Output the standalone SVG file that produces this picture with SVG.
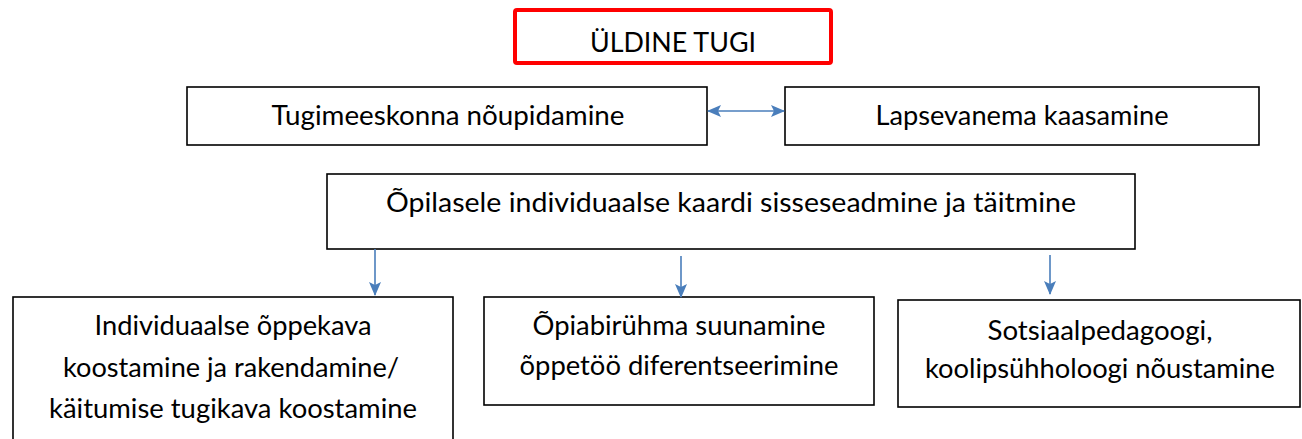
<svg xmlns="http://www.w3.org/2000/svg" width="1302" height="439" viewBox="0 0 1302 439">
<defs>
<style>
.box{fill:#ffffff;stroke:#000000;stroke-width:1.6}
.red{fill:#ffffff;stroke:#ff0000;stroke-width:4}
.t{font-family:Lato,"Open Sans","Liberation Sans",sans-serif;font-size:27px;fill:#000000;text-anchor:middle}
.c{stroke:#4a7ebb;stroke-width:1.6;fill:none}
</style>
<marker id="ah" viewBox="0 0 14 12" refX="13" refY="6" markerWidth="14" markerHeight="12" markerUnits="userSpaceOnUse" orient="auto-start-reverse">
<path d="M0,0 L14,6 L0,12 L3,6 Z" fill="#4a7ebb"/>
</marker>
</defs>
<rect width="1302" height="439" fill="#ffffff"/>
<g id="n-uldine">
<rect class="red" x="515" y="10" width="316" height="53" rx="2"/>
<text class="t" x="673" y="52" textLength="166" lengthAdjust="spacingAndGlyphs">ÜLDINE TUGI</text>
</g>
<g id="n-tugimeeskond">
<rect class="box" x="187" y="87" width="520" height="58"/>
<text class="t" x="448" y="125" textLength="353" lengthAdjust="spacingAndGlyphs">Tugimeeskonna nõupidamine</text>
</g>
<g id="n-lapsevanem">
<rect class="box" x="785" y="87" width="474" height="58"/>
<text class="t" x="1022" y="125" textLength="293" lengthAdjust="spacingAndGlyphs">Lapsevanema kaasamine</text>
</g>
<g id="n-kaart">
<rect class="box" x="327" y="174" width="808" height="75"/>
<text class="t" x="731" y="212" textLength="690" lengthAdjust="spacingAndGlyphs">Õpilasele individuaalse kaardi sisseseadmine ja täitmine</text>
</g>
<g id="n-iok">
<rect class="box" x="13" y="297" width="440" height="150"/>
<text class="t" x="233" y="335" textLength="277" lengthAdjust="spacingAndGlyphs">Individuaalse õppekava</text>
<text class="t" x="231" y="377" textLength="336" lengthAdjust="spacingAndGlyphs">koostamine ja rakendamine/</text>
<text class="t" x="233" y="418" textLength="368" lengthAdjust="spacingAndGlyphs">käitumise tugikava koostamine</text>
</g>
<g id="n-opiabi">
<rect class="box" x="484" y="297" width="390" height="108"/>
<text class="t" x="679" y="335" textLength="293" lengthAdjust="spacingAndGlyphs">Õpiabirühma suunamine</text>
<text class="t" x="679" y="375" textLength="319" lengthAdjust="spacingAndGlyphs">õppetöö diferentseerimine</text>
</g>
<g id="n-sotsiaal">
<rect class="box" x="898" y="300" width="402" height="107"/>
<text class="t" x="1100" y="340" textLength="225" lengthAdjust="spacingAndGlyphs">Sotsiaalpedagoogi,</text>
<text class="t" x="1100" y="378" textLength="350" lengthAdjust="spacingAndGlyphs">koolipsühholoogi nõustamine</text>
</g>
<g id="connectors">
<line class="c" x1="708" y1="111" x2="784" y2="111" marker-start="url(#ah)" marker-end="url(#ah)"/>
<line class="c" x1="375" y1="249" x2="375" y2="295" marker-end="url(#ah)"/>
<line class="c" x1="681" y1="256" x2="681" y2="297" marker-end="url(#ah)"/>
<line class="c" x1="1050" y1="255" x2="1050" y2="294" marker-end="url(#ah)"/>
</g>
</svg>
